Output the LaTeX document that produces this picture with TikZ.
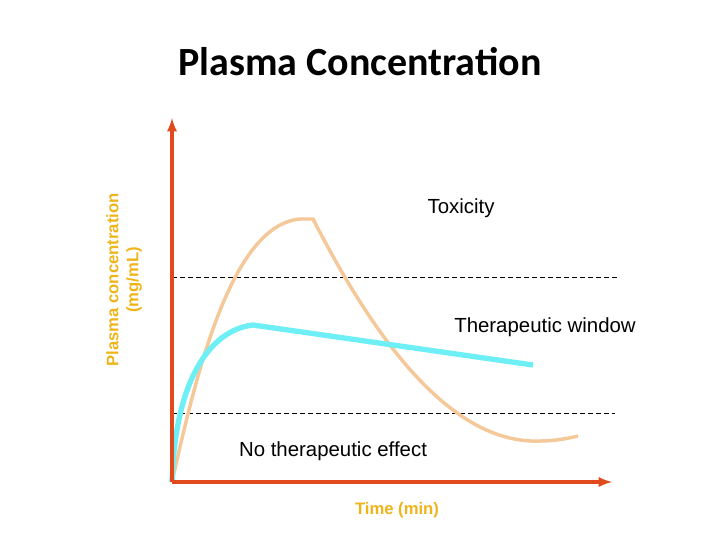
\documentclass[tikz,border=0pt]{standalone}
\usepackage{fontspec}
\setmainfont{Liberation Sans}
\newfontfamily\titlefont{Carlito}
\begin{document}
\begin{tikzpicture}[x=0.75pt,y=-0.75pt,
  dashln/.style={line width=0.6pt, dash pattern=on 4pt off 2pt},
  lbl/.style={font=\fontsize{15.3}{18}\selectfont}]
\definecolor{ax}{HTML}{E04A1C}
\definecolor{tox}{HTML}{F5C89A}
\definecolor{cy}{HTML}{6EEFF5}
\definecolor{yl}{HTML}{EEB41A}
\useasboundingbox (0,0) rectangle (720,540);
\node (title) at (360,62) {\titlefont\bfseries\fontsize{30}{34}\selectfont Plasma Concentration};
\coordinate (o) at (172,482);
\coordinate (ytop) at (172,118);
\coordinate (xend) at (612,482);
\draw[dashln] (172,277) -- (618,277);
\draw[dashln] (172,413) -- (615,413);
\draw[tox, line width=2.6pt] (o) .. controls (195,380) and (230,225) .. (300,219) -- (313,219)
  .. controls (360,310) and (440,445) .. (540,441) .. controls (555,441) and (570,438) .. (578,436);
\draw[cy, line width=4pt] (o) .. controls (175,380) and (210,330) .. (253,325) -- (533,365);
\draw[ax, line width=2.4pt, -latex] (o) -- (ytop);
\draw[ax, line width=2.4pt, -latex] (o) -- (xend);
\node[lbl] (tox) at (461,208) {Toxicity};
\node[lbl] (win) at (545,327) {Therapeutic window};
\node[lbl] (none) at (333,451) {No therapeutic effect};
\node[text=yl, font=\bfseries\fontsize{12.5}{15}\selectfont] (tx) at (397,510) {Time (min)};
\node[text=yl, font=\bfseries\fontsize{12.5}{15}\selectfont, rotate=90, align=center] (ty) at (124,280) {Plasma concentration\\(mg/mL)};
\end{tikzpicture}
\end{document}
